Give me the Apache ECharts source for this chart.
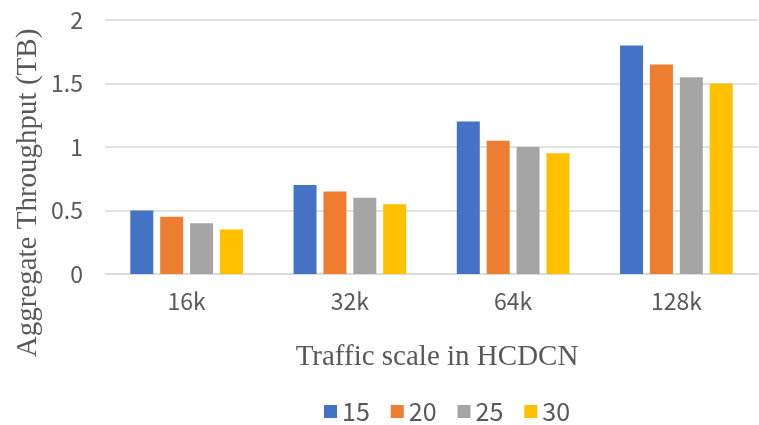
<!DOCTYPE html>
<html>
<head>
<meta charset="utf-8">
<script src="https://cdn.jsdelivr.net/npm/echarts@6/dist/echarts.min.js"></script>
<style>
  html, body { margin: 0; padding: 0; background: #fff; }
  #chart { width: 759px; height: 425px; }
</style>
</head>
<body>
<div id="chart"></div>
<script>
// traffic scales on the x axis
const categories = ['16k', '32k', '64k', '128k']
const seriesNames = ['15', '20', '25', '30']
const values15 = [0.5, 0.7, 1.2, 1.8]
const values20 = [0.45, 0.65, 1.05, 1.65]
const values25 = [0.4, 0.6, 1.0, 1.55]
const values30 = [0.35, 0.55, 0.95, 1.5]
const allValues = [values15, values20, values25, values30]
const colors = ['#4472C4', '#ED7D31', '#A5A5A5', '#FFC000']

const chart = echarts.init(document.getElementById('chart'), null, { renderer: 'canvas' })

const labelFont = '"Noto Sans CJK SC", "Noto Sans", sans-serif'
const titleFont = '"Liberation Serif", "DejaVu Serif", serif'

chart.setOption({
  animation: false,
  color: colors,
  grid: { left: 105, right: 1, top: 20, bottom: 151 },
  legend: {
    top: 399,
    left: 324,
    padding: 0,
    itemWidth: 13,
    itemHeight: 13,
    itemGap: 21,
    icon: 'rect',
    textStyle: { color: '#595959', fontSize: 25, fontFamily: labelFont },
    data: seriesNames,
  },
  // axis titles placed as plain text so the y title can sit where the original has it
  graphic: [
    {
      type: 'text',
      x: 28,
      y: 193,
      rotation: Math.PI / 2,
      style: {
        text: 'Aggregate Throughput (TB)',
        fill: '#595959',
        font: '29px ' + titleFont,
        align: 'center',
        verticalAlign: 'middle',
      },
    },
    {
      type: 'text',
      x: 437,
      y: 357,
      style: {
        text: 'Traffic scale in HCDCN',
        fill: '#595959',
        font: '29px ' + titleFont,
        align: 'center',
        verticalAlign: 'middle',
      },
    },
  ],
  xAxis: {
    type: 'category',
    data: categories,
    axisLine: { lineStyle: { color: '#D9D9D9', width: 1.5 } },
    axisTick: { show: false },
    axisLabel: { color: '#595959', fontSize: 23, fontFamily: labelFont, margin: 16 },
  },
  yAxis: {
    type: 'value',
    min: 0,
    max: 2,
    interval: 0.5,
    axisLine: { show: false },
    axisTick: { show: false },
    axisLabel: { color: '#595959', fontSize: 23, fontFamily: labelFont, margin: 22 },
    splitLine: { lineStyle: { color: '#D9D9D9', width: 1.5 } },
  },
  series: seriesNames.map((name, i) => ({
    name,
    type: 'bar',
    data: allValues[i],
    barGap: '30%',
    barCategoryGap: '31%',
  })),
})
</script>
</body>
</html>
